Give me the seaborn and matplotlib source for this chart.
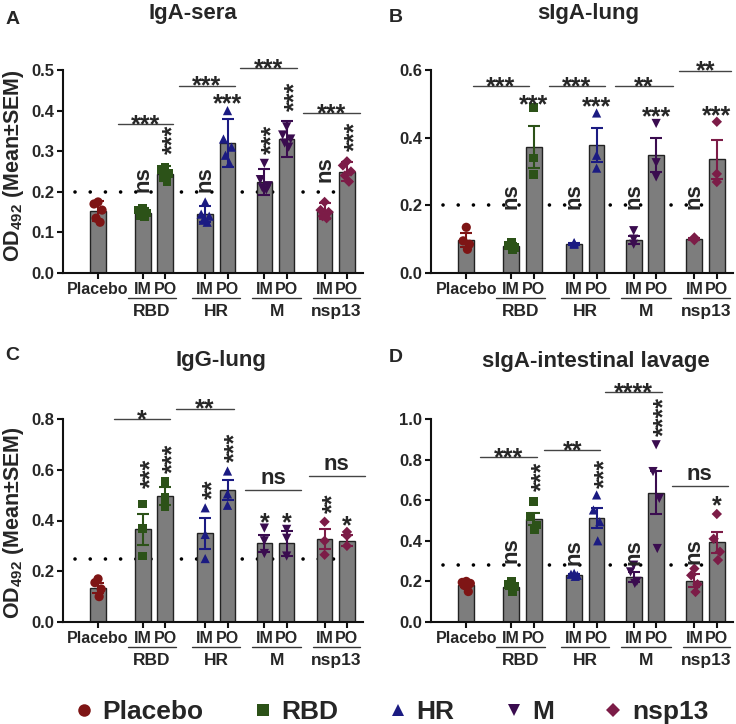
import numpy as np
import pandas as pd
import matplotlib
matplotlib.use('Agg')
import matplotlib.pyplot as plt
from matplotlib.lines import Line2D
import seaborn as sns

# ---- data ----
ROUTES = ['Placebo', 'IM', 'PO', 'IM', 'PO', 'IM', 'PO', 'IM', 'PO']
GROUP_OF_BAR = ['Placebo', 'RBD', 'RBD', 'HR', 'HR', 'M', 'M', 'nsp13', 'nsp13']
ANTIGENS = ['RBD', 'HR', 'M', 'nsp13']
LEGEND_NAMES = ['Placebo', 'RBD', 'HR', 'M', 'nsp13']

A_mean = [0.152, 0.148, 0.245, 0.145, 0.320, 0.224, 0.330, 0.152, 0.250]
A_err = [0.025, 0.012, 0.018, 0.020, 0.060, 0.032, 0.045, 0.020, 0.024]
A_points = [
    [0.175, 0.170, 0.155, 0.135, 0.125],
    [0.160, 0.155, 0.148, 0.142, 0.138],
    [0.260, 0.255, 0.245, 0.235, 0.225],
    [0.175, 0.145, 0.140, 0.130, 0.125],
    [0.400, 0.330, 0.310, 0.290, 0.270],
    [0.270, 0.230, 0.215, 0.210, 0.205],
    [0.360, 0.340, 0.330, 0.320, 0.310],
    [0.175, 0.155, 0.150, 0.140, 0.135],
    [0.275, 0.265, 0.250, 0.240, 0.225],
]
A_marks = ['', 'ns', '***', 'ns', '***', '***', '***', 'ns', '***']
A_bracket_text = ['***', '***', '***', '***']
A_bracket_y = [0.367, 0.461, 0.504, 0.394]

B_mean = [0.098, 0.080, 0.373, 0.087, 0.378, 0.098, 0.348, 0.100, 0.336]
B_err = [0.020, 0.008, 0.062, 0.003, 0.050, 0.012, 0.050, 0.003, 0.057]
B_points = [
    [0.135, 0.095, 0.085, 0.070],
    [0.090, 0.082, 0.075, 0.068],
    [0.490, 0.340, 0.290],
    [0.090, 0.087, 0.085],
    [0.473, 0.348, 0.310],
    [0.125, 0.100, 0.085],
    [0.442, 0.326, 0.284],
    [0.105, 0.100, 0.097],
    [0.447, 0.293, 0.269],
]
B_marks = ['', 'ns', '***', 'ns', '***', 'ns', '***', 'ns', '***']
B_bracket_text = ['***', '***', '**', '**']
B_bracket_y = [0.552, 0.552, 0.552, 0.598]

C_mean = [0.134, 0.365, 0.497, 0.349, 0.520, 0.310, 0.310, 0.326, 0.320]
C_err = [0.020, 0.062, 0.035, 0.060, 0.040, 0.033, 0.050, 0.040, 0.022]
C_points = [
    [0.170, 0.155, 0.130, 0.100],
    [0.465, 0.370, 0.260],
    [0.555, 0.490, 0.455],
    [0.450, 0.345, 0.250],
    [0.595, 0.505, 0.460],
    [0.370, 0.320, 0.270],
    [0.365, 0.330, 0.260],
    [0.395, 0.320, 0.265],
    [0.355, 0.340, 0.300],
]
C_marks = ['', '***', '***', '**', '***', '*', '*', '**', '*']
C_bracket_text = ['*', '**', 'ns', 'ns']
C_bracket_y = [0.800, 0.840, 0.520, 0.577]

D_mean = [0.181, 0.173, 0.506, 0.230, 0.514, 0.222, 0.637, 0.203, 0.392]
D_err = [0.010, 0.012, 0.030, 0.005, 0.050, 0.025, 0.107, 0.033, 0.052]
D_points = [
    [0.200, 0.195, 0.190, 0.180, 0.150],
    [0.200, 0.185, 0.175, 0.150],
    [0.593, 0.519, 0.478, 0.453],
    [0.240, 0.235, 0.230, 0.225],
    [0.626, 0.552, 0.494, 0.400],
    [0.280, 0.247, 0.200, 0.190],
    [0.873, 0.741, 0.609, 0.362],
    [0.263, 0.230, 0.186, 0.148],
    [0.532, 0.410, 0.346, 0.305],
]
D_marks = ['', 'ns', '***', 'ns', '***', 'ns', '****', 'ns', '*']
D_bracket_text = ['***', '**', '****', 'ns']
D_bracket_y = [0.812, 0.845, 1.133, 0.670]

CUTOFF = {'A': 0.20, 'B': 0.20, 'C': 0.25, 'D': 0.28}

# ---- layout / style ----
POS = [0.0, 2.0, 3.0, 4.8, 5.8, 7.45, 8.45, 10.15, 11.15]
XLIM = (-1.57, 11.87)
COLORS = {'Placebo': '#7e1515', 'RBD': '#2c5218', 'HR': '#1b1b82',
          'M': '#3a0c4f', 'nsp13': '#7c1c47'}
MARKERS = {'Placebo': 'o', 'RBD': 's', 'HR': '^', 'M': 'v', 'nsp13': 'D'}
MSIZE = {'Placebo': 44, 'RBD': 40, 'HR': 44, 'M': 44, 'nsp13': 28}
JITTER = {5: [0.0, -0.18, 0.18, -0.09, 0.09], 4: [0.0, -0.14, 0.14, 0.05], 3: [0.0, 0.0, 0.0]}
BAR_GRAY = '#7d7d7d'
STAR_SIZE = 18
NS_SIZE = 16

A_mark_y = [np.nan, 0.23, 0.33, 0.23, 0.435, 0.33, 0.435, 0.255, 0.336]
B_mark_y = [np.nan, 0.228, 0.52, 0.228, 0.513, 0.228, 0.484, 0.228, 0.488]
C_mark_y = [np.nan, 0.586, 0.646, 0.523, 0.69, 0.42, 0.42, 0.468, 0.41]
D_mark_y = [np.nan, 0.354, 0.716, 0.346, 0.733, 0.346, 1.013, 0.35, 0.61]
A_flat = {4}
B_flat = {2, 4, 6, 8}
C_flat = {5, 6, 8}
D_flat = {8}
A_span = [(0.9, 3.36), (3.63, 6.12), (6.37, 8.93), (9.18, 11.72)]
B_span = [(0.3, 2.79), (3.66, 6.19), (6.64, 9.18), (9.48, 11.79)]
C_span = [(0.72, 3.24), (3.51, 6.07), (6.6, 9.1), (9.45, 11.94)]
D_span = [(0.6, 3.13), (3.46, 5.97), (6.19, 8.7), (9.15, 11.64)]
UNDER_SPAN = [(1.34, 3.49), (4.22, 6.37), (6.9, 9.1), (9.63, 11.72)]

sns.set_theme(style='ticks')
plt.rcParams['font.family'] = ['Liberation Sans', 'DejaVu Sans']
plt.rcParams['font.weight'] = 'bold'
plt.rcParams['mathtext.fontset'] = 'custom'
plt.rcParams['mathtext.rm'] = 'Liberation Sans:bold'
plt.rcParams['mathtext.default'] = 'rm'

fig = plt.figure(figsize=(7.36, 7.24), dpi=100)
W, H = 736, 724


def put_label(ax, x, y, s, flat):
    # asterisks sit high in the glyph box, so nudge them back to the centre
    star = s.startswith('*')
    size = STAR_SIZE if star else NS_SIZE
    shift = 0.325 * size if star else 0
    if flat:
        off, rot = (0, -shift), 0
    else:
        off, rot = (shift, 0), 90
    ax.annotate(s, (x, y), xytext=off, textcoords='offset points', ha='center',
                va='center', rotation=rot, fontsize=size, fontweight='bold',
                annotation_clip=False)


def draw_panel(rect, means, errs, points, marks, mark_y, flat, br_text, br_y, br_span,
               cutoff, ymax, ystep):
    ax = fig.add_axes(rect)
    bars = pd.DataFrame({'pos': POS, 'mean': means})
    sns.barplot(data=bars, x='pos', y='mean', native_scale=True, width=0.7,
                color=BAR_GRAY, saturation=1, edgecolor='#222222', linewidth=1.0,
                errorbar=None, ax=ax, zorder=1)
    ax.axhline(cutoff, xmin=0.04, xmax=0.985, color='black', lw=2.6,
               ls=(0, (0.01, 4.2)), dash_capstyle='round', zorder=0.5)

    for i, g in enumerate(GROUP_OF_BAR):
        ax.errorbar(POS[i], means[i], yerr=errs[i], fmt='none', ecolor=COLORS[g],
                    elinewidth=1.5, capsize=4, capthick=1.5, zorder=2)
        vals = points[i]
        pts = pd.DataFrame({'x': [POS[i] + j for j in JITTER[len(vals)][:len(vals)]],
                            'y': vals})
        sns.scatterplot(data=pts, x='x', y='y', marker=MARKERS[g], color=COLORS[g],
                        s=MSIZE[g], edgecolor='none', linewidth=0, ax=ax, zorder=3,
                        legend=False, clip_on=False)
        if marks[i]:
            put_label(ax, POS[i], mark_y[i], marks[i], i in flat)

    for (x0, x1), yb, t in zip(br_span, br_y, br_text):
        ax.plot([x0, x1], [yb, yb], color='#444444', lw=1.0, clip_on=False, zorder=2)
        star = t.startswith('*')
        ax.annotate(t, ((x0 + x1) / 2, yb), xytext=(0, -0.6 if star else 8),
                    textcoords='offset points', ha='center', va='center',
                    fontsize=STAR_SIZE if star else NS_SIZE, fontweight='bold',
                    annotation_clip=False)

    tr = ax.get_xaxis_transform()
    for (x0, x1), name in zip(UNDER_SPAN, ANTIGENS):
        ax.plot([x0, x1], [-0.123, -0.123], transform=tr, color='#333333', lw=1.0,
                clip_on=False)
        ax.text((x0 + x1) / 2, -0.19, name, transform=tr, ha='center', va='center',
                fontsize=12.5, fontweight='bold')

    ax.set_xlim(*XLIM)
    ax.set_ylim(0, ymax)
    ticks = np.round(np.arange(0, ymax + 1e-9, ystep), 2)
    ax.set_yticks(ticks)
    ax.set_yticklabels([f'{t:.1f}' for t in ticks])
    ax.set_xticks(POS)
    ax.set_xticklabels(ROUTES)
    ax.set_xlabel('')
    ax.set_ylabel('')
    sns.despine(ax=ax)
    for sp in ('left', 'bottom'):
        ax.spines[sp].set_linewidth(1.5)
        ax.spines[sp].set_color('#111111')
    ax.tick_params(axis='both', width=1.5, length=4.5, pad=2, color='#111111')
    ax.tick_params(axis='x', labelsize=11.5)
    ax.tick_params(axis='y', labelsize=12)
    for lab in ax.get_xticklabels() + ax.get_yticklabels():
        lab.set_fontweight('bold')
    return ax


def rect(left, top, width, height):
    return [left / W, 1 - (top + height) / H, width / W, height / H]


draw_panel(rect(63, 70, 300, 203), A_mean, A_err, A_points, A_marks, A_mark_y, A_flat,
           A_bracket_text, A_bracket_y, A_span, CUTOFF['A'], 0.5, 0.1)
draw_panel(rect(431, 70, 302, 203), B_mean, B_err, B_points, B_marks, B_mark_y, B_flat,
           B_bracket_text, B_bracket_y, B_span, CUTOFF['B'], 0.6, 0.2)
draw_panel(rect(63, 419, 300, 203), C_mean, C_err, C_points, C_marks, C_mark_y, C_flat,
           C_bracket_text, C_bracket_y, C_span, CUTOFF['C'], 0.8, 0.2)
draw_panel(rect(431, 419, 302, 203), D_mean, D_err, D_points, D_marks, D_mark_y, D_flat,
           D_bracket_text, D_bracket_y, D_span, CUTOFF['D'], 1.0, 0.2)

# titles, panel letters and y labels
for x, y, s in [(193, 14, 'IgA-sera'), (588, 14, 'sIgA-lung'),
                (221, 360, 'IgG-lung'), (596, 362, 'sIgA-intestinal lavage')]:
    fig.text(x / W, 1 - y / H, s, ha='center', va='center', fontsize=16, fontweight='bold')
for x, y, s in [(13, 19, 'A'), (396, 18, 'B'), (12, 355, 'C'), (396, 358, 'D')]:
    fig.text(x / W, 1 - y / H, s, ha='center', va='center', fontsize=14, fontweight='bold')
for y in (166, 523):
    fig.text(14 / W, 1 - y / H, 'OD$_{492}$ (Mean\u00b1SEM)', rotation=90, ha='center',
             va='center', fontsize=15.5, fontweight='bold')

handles = [Line2D([], [], ls='none', marker=MARKERS[n], color=COLORS[n],
                  markersize=9 if n != 'nsp13' else 7, markeredgewidth=0)
           for n in LEGEND_NAMES]
fig.legend(handles, LEGEND_NAMES, loc='center', bbox_to_anchor=(0.53, 1 - 712 / H),
           ncol=5, frameon=False, prop={'size': 19, 'weight': 'bold'},
           handletextpad=0.25, columnspacing=1.8, handlelength=0.9)

fig.savefig('out.png', dpi=100)
